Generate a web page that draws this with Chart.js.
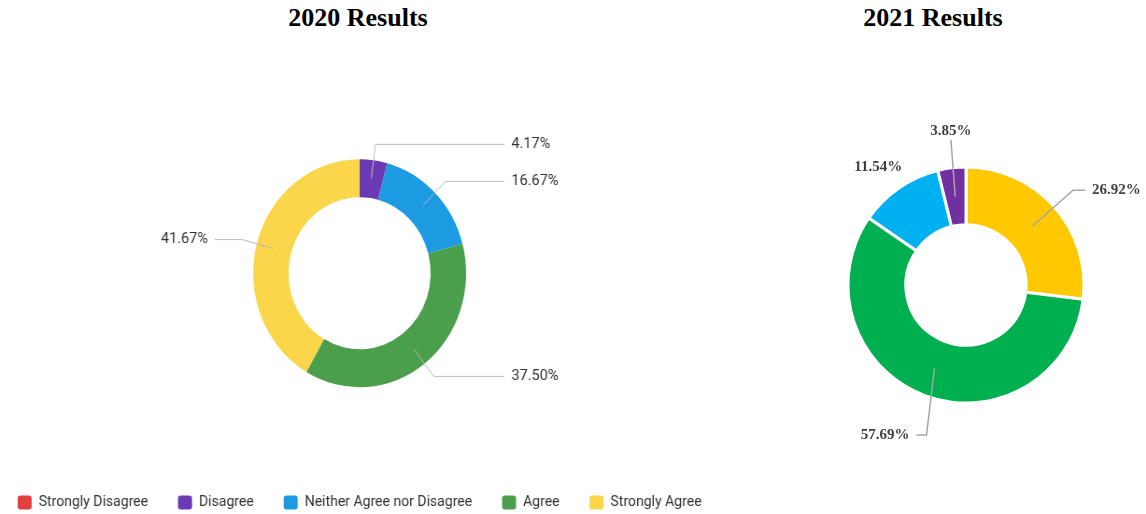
<!DOCTYPE html>
<html lang="en">
<head>
  <meta charset="UTF-8" />
  <title>2020 vs 2021 Results</title>
  <script src="https://cdn.jsdelivr.net/npm/chart.js"></script>
  <style>
    html, body {
      margin: 0;
      width: 1146px;
      height: 514px;
      overflow: hidden;
      background: #fff;
      position: relative;
    }
    .box { position: absolute; top: 0; }
    /* the 2020 graphic is a slightly squeezed screenshot, so squeeze the canvas the same way */
    #box2020 { left: -41.6px; width: 860px; height: 520px; transform: scaleX(0.934); transform-origin: 0 0; }
    #box2021 { left: 720px; width: 426px; height: 514px; }
    .title {
      position: absolute;
      top: 0;
      height: 36px;
      line-height: 36px;
      width: 300px;
      text-align: center;
      font-family: "Liberation Serif", "Times New Roman", serif;
      font-weight: bold;
      font-size: 26px;
      color: #000;
    }
  </style>
</head>
<body>
  <div class="title" style="left: 208px;">2020 Results</div>
  <div class="title" style="left: 783px;">2021 Results</div>
  <div class="box" id="box2020"><canvas id="chart2020"></canvas></div>
  <div class="box" id="box2021"><canvas id="chart2021"></canvas></div>

  <script>
    // data
    const categories2020 = ['Strongly Disagree', 'Disagree', 'Neither Agree nor Disagree', 'Agree', 'Strongly Agree'];
    const results2020 = [0, 4.17, 16.67, 37.50, 41.67];
    const colors2020 = ['#e33f3f', '#6a3ab4', '#1d9be2', '#4a9e4c', '#fbd54a'];

    const categories2021 = ['Strongly Agree', 'Agree', 'Neither Agree nor Disagree', 'Disagree'];
    const results2021 = [26.92, 57.69, 11.54, 3.85];
    const colors2021 = ['#ffc800', '#00b050', '#00b0f0', '#7030a0'];

    // leader lines + percentage labels, placed from the arc geometry
    const callouts = {
      id: 'callouts',
      afterDatasetsDraw(chart, args, opts) {
        const ctx = chart.ctx;
        const meta = chart.getDatasetMeta(0);
        const values = chart.data.datasets[0].data;
        meta.data.forEach((arc, i) => {
          const spec = opts.specs[i];
          if (!spec || !values[i]) return;
          const p = arc.getProps(['x', 'y', 'startAngle', 'endAngle'], true);
          const mid = (p.startAngle + p.endAngle) / 2;
          const a2 = mid + (spec.da || 0) * Math.PI / 180;
          const ax = p.x + opts.anchor * Math.cos(mid), ay = p.y + opts.anchor * Math.sin(mid);
          const ex = p.x + spec.r * Math.cos(a2), ey = p.y + spec.r * Math.sin(a2);
          const side = Math.cos(a2) >= 0 ? 1 : -1;
          const text = values[i].toFixed(2) + '%';

          ctx.save();
          ctx.strokeStyle = opts.lineColor;
          ctx.lineWidth = opts.lineWidth;
          ctx.font = opts.font;
          ctx.fillStyle = opts.color;

          if (spec.line === false) {
            ctx.textAlign = 'center';
            ctx.textBaseline = 'middle';
            ctx.fillText(text, ex, ey);
          } else if (spec.above) {
            ctx.beginPath();
            ctx.moveTo(ax, ay);
            ctx.lineTo(ex, ey);
            ctx.stroke();
            ctx.textAlign = 'center';
            ctx.textBaseline = 'bottom';
            ctx.fillText(text, ex, ey - 1);
          } else {
            const endX = spec.endX != null ? p.x + side * spec.endX : ex + side * spec.run;
            ctx.beginPath();
            ctx.moveTo(ax, ay);
            ctx.lineTo(ex, ey);
            ctx.lineTo(endX, ey);
            ctx.stroke();
            ctx.textAlign = side > 0 ? 'left' : 'right';
            ctx.textBaseline = 'middle';
            ctx.fillText(text, endX + side * opts.gap, ey);
          }
          ctx.restore();
        });
      }
    };

    // 2020
    new Chart(document.getElementById('chart2020'), {
      type: 'doughnut',
      plugins: [callouts],
      data: {
        labels: categories2020,
        datasets: [{
          data: results2020,
          backgroundColor: colors2020,
          borderWidth: 0,
          radius: 114,
          cutout: '66.7%'
        }]
      },
      options: {
        responsive: true,
        maintainAspectRatio: false,
        animation: false,
        layout: { padding: { top: 83.5, bottom: 0, left: 0, right: 0 } },
        plugins: {
          title: { display: false },
          legend: {
            position: 'bottom',
            labels: {
              color: '#333',
              font: { family: 'Roboto, sans-serif', size: 15 },
              boxWidth: 15,
              boxHeight: 14,
              useBorderRadius: true,
              borderRadius: 3,
              padding: 32
            }
          },
          tooltip: { enabled: false },
          callouts: {
            font: '15.5px Roboto, sans-serif',
            color: '#333',
            lineColor: '#bbbbbb',
            lineWidth: 1,
            anchor: 96,
            gap: 7.5,
            specs: [
              { r: 130, endX: 155 },
              { r: 130, endX: 155 },
              { r: 130, endX: 155 },
              { r: 130, endX: 155 },
              { r: 130, endX: 155 }
            ]
          }
        }
      }
    });

    // 2021
    new Chart(document.getElementById('chart2021'), {
      type: 'doughnut',
      plugins: [callouts],
      data: {
        labels: categories2021,
        datasets: [{
          data: results2021,
          backgroundColor: colors2021,
          borderColor: '#ffffff',
          borderWidth: 3,
          radius: 118,
          cutout: '51%'
        }]
      },
      options: {
        responsive: true,
        maintainAspectRatio: false,
        animation: false,
        layout: { padding: { left: 66, right: 0, top: 56, bottom: 0 } },
        plugins: {
          title: { display: false },
          legend: { display: false },
          tooltip: { enabled: false },
          callouts: {
            font: 'bold 15px "Liberation Serif", "Times New Roman", serif',
            color: '#404040',
            lineColor: '#a6a6a6',
            lineWidth: 1.5,
            anchor: 89,
            gap: 7,
            specs: [
              { r: 143, run: 12 },
              { r: 155, da: -6, run: 10 },
              { r: 147, da: -2, line: false },
              { r: 146, da: 1, above: true }
            ]
          }
        }
      }
    });
  </script>
</body>
</html>
